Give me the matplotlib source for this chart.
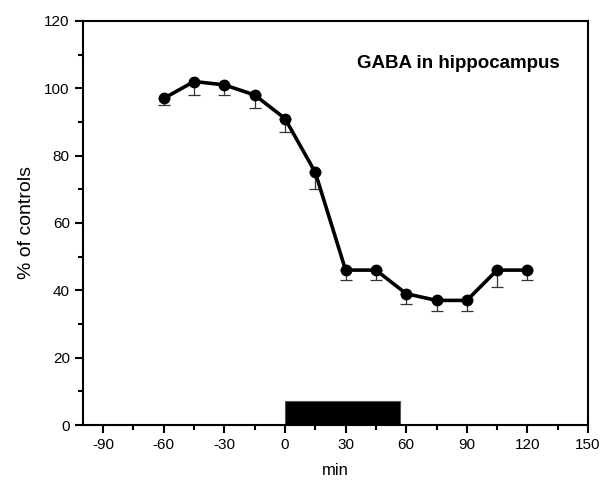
import matplotlib
matplotlib.use('Agg')
import matplotlib.pyplot as plt
import numpy as np
from matplotlib.ticker import MultipleLocator

plt.rcParams['font.family'] = ['Liberation Sans', 'DejaVu Sans']
plt.rcParams['axes.unicode_minus'] = False

# time (min) and GABA level (% of controls)
time_min = [-60, -45, -30, -15, 0, 15, 30, 45, 60, 75, 90, 105, 120]
gaba_pct = [97, 102, 101, 98, 91, 75, 46, 46, 39, 37, 37, 46, 46]
gaba_err = [2, 4, 3, 4, 4, 5, 3, 3, 3, 3, 3, 5, 3]

# treatment period bar
bar_start, bar_end, bar_height = 0, 57, 7

fig = plt.figure(figsize=(6.12, 4.86), dpi=100)
ax = fig.add_axes([0.1356, 0.1255, 0.8252, 0.8315])

ax.errorbar(time_min, gaba_pct, yerr=[gaba_err, [0] * len(gaba_err)],
            fmt='none', ecolor='#333333', elinewidth=0.9, capsize=4, capthick=0.9)
ax.plot(time_min, gaba_pct, color='black', lw=2.6, marker='o', ms=7.5)

ax.bar(bar_start, bar_height, width=bar_end - bar_start, align='edge',
       color='black', edgecolor='#555555', lw=0.8)

ax.set_xlim(-100, 150)
ax.set_ylim(0, 120)
ax.set_xticks(np.arange(-90, 151, 30))
ax.set_yticks(np.arange(0, 121, 20))
ax.xaxis.set_minor_locator(MultipleLocator(15))
ax.yaxis.set_minor_locator(MultipleLocator(10))
ax.tick_params(which='major', direction='out', length=6, width=1.5, labelsize=11)
ax.tick_params(which='minor', direction='out', length=3.5, width=1.5)
for s in ax.spines.values():
    s.set_linewidth(1.5)

ax.set_xlabel('min', fontsize=12, labelpad=8)
ax.set_ylabel('% of controls', fontsize=14, labelpad=7)
ax.text(0.945, 0.895, 'GABA in hippocampus', transform=ax.transAxes,
        ha='right', va='center', fontsize=13.5, fontweight='bold')

fig.savefig('out.png', dpi=100)
